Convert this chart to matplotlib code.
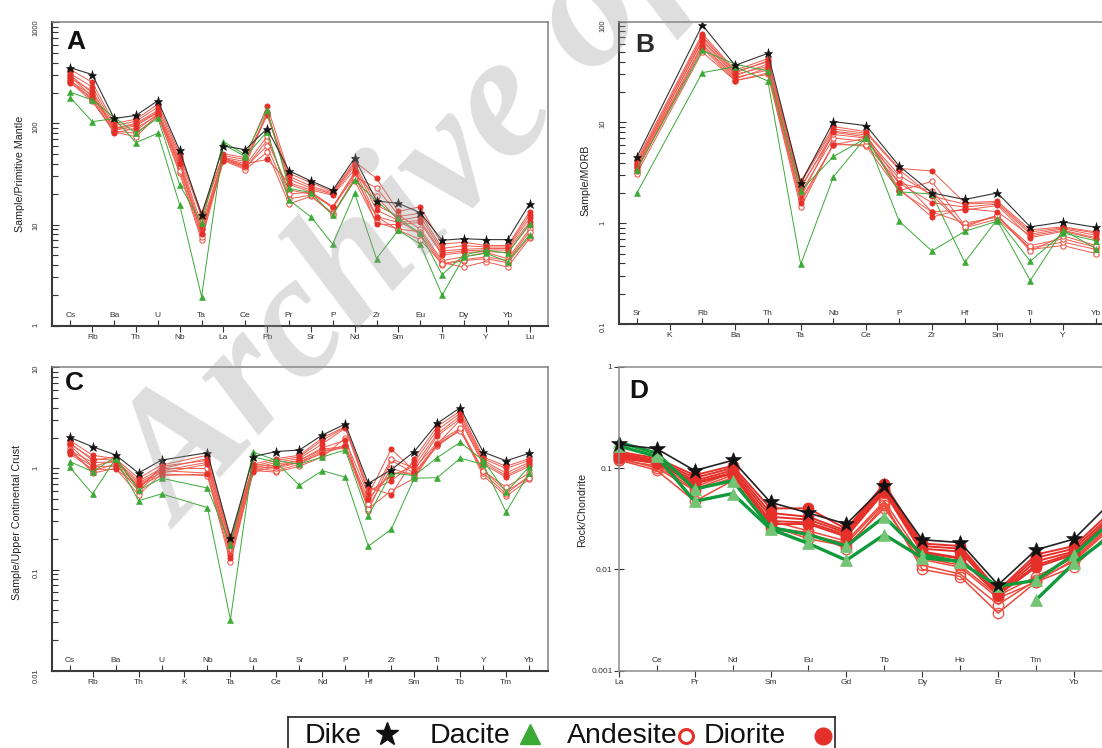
import numpy as np
import matplotlib.pyplot as plt
from matplotlib.ticker import FixedLocator, FixedFormatter, LogLocator, NullFormatter, FuncFormatter

plt.rcParams['font.family'] = ['Liberation Sans', 'DejaVu Sans']

W, H = 1102, 748
nan = np.nan

# ---- A: spider diagram normalised to primitive mantle
elements_a = ['Cs', 'Rb', 'Ba', 'Th', 'U', 'Nb', 'Ta', 'La', 'Ce', 'Pb', 'Pr',
              'Sr', 'P', 'Nd', 'Zr', 'Sm', 'Eu', 'Ti', 'Dy', 'Y', 'Yb', 'Lu']
dike_a = [356, 304, 112, 120, 168, 54, 12.5, 60, 55, 89, 34, 27, 21.8, 45.5,
          17.1, 16.2, 13.1, 7.0, 7.25, 7.1, 7.1, 16]
dacite_a = [
    [203, 171, 115, 80, 113, 24.6, 10.3, 66, 49, 136, 22.8, 20.7, 12.4, 27.6,
     17, 11.5, 8.2, 3.2, 5.0, 5.6, 5.2, 10.1],
    [180, 104, 112, 64.6, 80, 15.6, 1.94, 62, 47, 83, 17.5, 11.9, 6.4, 20.4,
     4.6, 8.8, 6.4, 2.0, 4.8, 5.2, 4.3, 7.9],
]
andesite_a = [
    [300, 200, 88, 98, 130, 36, 9, 44, 36, 68, 22, 20, 15, 30, 23, 12.5, 9, 4.4, 4.8, 5.3, 4.6, 9],
    [270, 170, 82, 74, 120, 32, 7, 43, 35, 52, 16, 19, 13.0, 27, 10.5, 9, 8.5, 4.2, 3.8, 4.3, 3.8, 7.3],
    [290, 185, 92, 85, 125, 38, 8, 46, 38, 75, 20, 21, 14.5, 32, 19, 11, 8.0, 4.0, 4.4, 4.6, 4.2, 7.6],
    [255, 165, 84, 80, 118, 34, 7.5, 45, 37, 60, 18, 19.5, 12.5, 29, 12, 8.8, 7.1, 4.1, 4.5, 4.8, 4.4, 8.5],
]
diorite_a = [
    [340, 255, 100, 110, 155, 50, 13, 50, 46, 148, 32, 26, 21, 42, 28.6, 13.5, 15, 6.4, 6.7, 6.2, 6.2, 13.4],
    [310, 230, 95, 105, 145, 47, 12, 48, 44, 126, 30, 24, 20.5, 40, 15.6, 12, 13, 5.8, 6.2, 6.0, 6.0, 12.5],
    [280, 210, 90, 100, 135, 44, 10, 46, 42, 120, 28, 23, 20, 38, 13.9, 11, 12, 5.5, 5.7, 5.8, 5.8, 11.5],
    [260, 190, 85, 95, 128, 42, 9, 45, 40, 44, 26, 22, 19.5, 35, 12, 10.5, 11, 5.2, 5.5, 5.6, 5.6, 10.5],
    [250, 180, 80, 90, 120, 40, 8, 43, 38, 130, 25, 21, 15, 33, 10.1, 10, 10.5, 5.0, 5.3, 5.4, 5.3, 10],
]

# ---- B: normalised to MORB
elements_b = ['Sr', 'K', 'Rb', 'Ba', 'Th', 'Ta', 'Nb', 'Ce', 'P', 'Zr', 'Hf',
              'Sm', 'Ti', 'Y', 'Yb']
dike_b = [4.5, nan, 92.7, 36.9, 48.5, 2.5, 10.2, 9.3, 3.7, 2.0, 1.72, 2.0, 0.92, 1.03, 0.91]
dacite_b = [
    [3.4, nan, 52, 37.8, 32.5, 2.1, 4.6, 7.0, 2.05, 1.95, 0.41, 1.1, 0.42, 0.8, 0.67],
    [1.98, nan, 31.2, 35.8, 25.8, 0.39, 2.9, 7.2, 1.05, 0.53, 0.83, 1.05, 0.27, 0.86, 0.56],
]
andesite_b = [
    [3.1, nan, 50, 26, 30, 1.44, 6.2, 5.8, 2.1, 2.6, 0.95, 1.2, 0.55, 0.6, 0.5],
    [3.3, nan, 60, 28, 33, 1.7, 6.0, 6.0, 2.5, 2.1, 0.9, 1.1, 0.57, 0.65, 0.55],
    [3.6, nan, 66, 30, 36, 2.0, 7.0, 6.5, 2.8, 1.3, 1.0, 1.15, 0.6, 0.7, 0.58],
    [3.9, nan, 72, 32, 40, 2.3, 7.6, 7.0, 3.0, 1.9, 0.92, 1.2, 0.53, 0.75, 0.6],
]
diorite_b = [
    [4.2, nan, 76, 33, 43, 2.6, 9.1, 8.1, 3.5, 3.3, 1.6, 1.65, 0.86, 0.92, 0.82],
    [4.0, nan, 70, 31, 41, 2.5, 8.6, 7.8, 3.4, 1.85, 1.55, 1.6, 0.82, 0.9, 0.8],
    [3.8, nan, 64, 29, 38, 2.2, 8.2, 7.5, 2.5, 1.6, 1.45, 1.55, 0.78, 0.88, 0.76],
    [3.6, nan, 58, 27, 35, 1.8, 8.0, 7.2, 2.2, 1.15, 1.4, 1.3, 0.75, 0.85, 0.72],
    [3.4, nan, 55, 26, 31, 1.6, 6.0, 7.0, 2.1, 1.3, 1.35, 1.5, 0.72, 0.83, 0.7],
]

# ---- C: normalised to upper continental crust
elements_c = ['Cs', 'Rb', 'Ba', 'Th', 'U', 'K', 'Nb', 'Ta', 'La', 'Ce', 'Sr',
              'Nd', 'P', 'Hf', 'Zr', 'Sm', 'Ti', 'Tb', 'Y', 'Tm', 'Yb']
dike_c = [2.03, 1.64, 1.36, 0.90, 1.21, nan, 1.43, 0.206, 1.31, 1.47, 1.52,
          2.14, 2.75, 0.71, 0.97, 1.47, 2.79, 3.99, 1.45, 1.19, 1.41]
dacite_c = [
    [1.17, 0.93, 1.3, 0.61, 0.80, nan, 0.64, 0.175, 1.45, 1.2, 1.1, 1.3, 1.52,
     0.34, 0.9, 0.85, 1.28, 1.81, 1.2, 0.58, 1.04],
    [1.03, 0.56, 1.25, 0.48, 0.56, nan, 0.41, 0.032, 1.3, 1.15, 0.68, 0.95, 0.82,
     0.17, 0.25, 0.8, 0.81, 1.26, 1.1, 0.37, 0.9],
]
andesite_c = [
    [1.6, 0.9, 1.0, 0.55, 0.88, nan, 0.85, 0.118, 0.95, 0.92, 1.05, 1.3, 2.0, 0.38, 1.2, 0.9, 1.65, 2.45, 0.85, 0.53, 0.78],
    [1.5, 0.95, 1.1, 0.6, 0.95, nan, 0.9, 0.15, 1.0, 0.95, 1.1, 1.45, 1.7, 0.42, 1.0, 0.85, 1.7, 2.4, 0.9, 0.56, 0.85],
    [1.7, 1.05, 1.2, 0.65, 1.0, nan, 1.0, 0.16, 1.05, 1.0, 1.15, 1.5, 1.6, 0.4, 0.6, 0.8, 1.75, 2.35, 0.95, 0.6, 0.8],
    [1.8, 1.2, 1.3, 0.62, 1.05, nan, 1.2, 0.18, 1.1, 1.05, 1.2, 1.55, 1.65, 0.45, 1.25, 1.0, 1.8, 2.5, 0.95, 0.65, 0.9],
]
diorite_c = [
    [1.9, 1.35, 1.25, 0.8, 1.08, nan, 1.35, 0.21, 1.1, 1.25, 1.35, 2.0, 2.6, 0.65, 0.55, 1.25, 2.6, 3.7, 1.3, 1.05, 1.25],
    [1.75, 1.25, 1.2, 0.75, 1.0, nan, 1.25, 0.19, 1.05, 1.2, 1.3, 1.9, 2.55, 0.6, 0.75, 1.15, 2.4, 3.5, 1.25, 1.0, 1.2],
    [1.5, 1.15, 1.15, 0.72, 0.95, nan, 1.15, 0.17, 1.0, 1.15, 1.25, 1.75, 2.5, 0.57, 0.85, 1.05, 2.2, 3.3, 1.2, 0.9, 1.15],
    [1.45, 1.05, 1.05, 0.7, 0.9, nan, 1.1, 0.14, 0.95, 1.1, 1.2, 1.6, 1.9, 0.55, 1.55, 0.95, 2.1, 3.1, 1.15, 0.85, 1.1],
    [1.4, 0.98, 0.98, 0.68, 0.85, nan, 0.88, 0.13, 0.92, 1.05, 1.15, 1.4, 1.65, 0.5, 0.9, 0.9, 1.75, 3.0, 1.1, 0.82, 1.05],
]

# ---- D: REE normalised to chondrite
elements_d = ['La', 'Ce', 'Pr', 'Nd', 'Sm', 'Eu', 'Gd', 'Tb', 'Dy', 'Ho', 'Er', 'Tm', 'Yb', 'Lu']
dike_d = [0.171, 0.155, 0.0944, 0.119, 0.0459, 0.036, 0.028, 0.066, 0.0196, 0.0184, 0.00703, 0.0156, 0.0199, 0.047]
dacite_d = [
    [0.18, 0.14, 0.062, 0.075, 0.026, 0.022, 0.017, 0.033, 0.014, 0.0118, 0.0068, 0.0078, 0.014, 0.03],
    [0.165, 0.13, 0.047, 0.056, 0.025, 0.018, 0.0123, 0.022, 0.013, 0.012, nan, 0.005, 0.0115, 0.022],
]
andesite_d = [
    [0.12, 0.095, 0.047, 0.075, 0.025, 0.022, 0.018, 0.045, 0.01, 0.0085, 0.0037, 0.0075, 0.0106, 0.024],
    [0.125, 0.1, 0.06, 0.08, 0.026, 0.023, 0.016, 0.043, 0.011, 0.009, 0.0045, 0.0078, 0.012, 0.026],
    [0.12, 0.105, 0.062, 0.085, 0.027, 0.02, 0.017, 0.04, 0.0125, 0.0105, 0.0052, 0.0075, 0.0125, 0.027],
    [0.13, 0.11, 0.065, 0.09, 0.03, 0.024, 0.019, 0.047, 0.013, 0.011, 0.0055, 0.0085, 0.013, 0.028],
]
diorite_d = [
    [0.145, 0.125, 0.085, 0.105, 0.040, 0.040, 0.025, 0.070, 0.018, 0.017, 0.0062, 0.014, 0.017, 0.038],
    [0.14, 0.12, 0.08, 0.10, 0.036, 0.033, 0.024, 0.066, 0.017, 0.016, 0.006, 0.013, 0.016, 0.035],
    [0.135, 0.118, 0.075, 0.095, 0.033, 0.031, 0.023, 0.062, 0.016, 0.015, 0.0058, 0.012, 0.015, 0.033],
    [0.13, 0.115, 0.072, 0.09, 0.03, 0.029, 0.022, 0.06, 0.015, 0.013, 0.0057, 0.011, 0.0145, 0.031],
    [0.125, 0.112, 0.07, 0.088, 0.028, 0.028, 0.021, 0.058, 0.0145, 0.0128, 0.0056, 0.0105, 0.014, 0.03],
]

RED = '#e5302a'
RED_LINE = '#ef5a4c'
GREEN = '#3aaa35'

small = {
    'andesite': dict(color=RED_LINE, lw=0.7, marker='o', ms=3.8, mfc='white', mec='#ec4436', mew=0.7),
    'diorite': dict(color=RED_LINE, lw=0.7, marker='o', ms=3.8, mfc=RED, mec=RED, mew=0.5),
    'dacite': dict(color=GREEN, lw=0.7, marker='^', ms=4.2, mfc=GREEN, mec=GREEN, mew=0.4),
    'dike': dict(color='#333333', lw=0.8, marker='*', ms=6.5, mfc='#111111', mec='#111111', mew=0.4),
}
big = {
    'andesite': dict(color='#ee4a3c', lw=1.1, marker='o', ms=7.5, mfc='none', mec='#ee4a3c', mew=0.9),
    'diorite': dict(color=RED, lw=1.4, marker='o', ms=8, mfc=RED, mec=RED, mew=0.5),
    'dacite': dict(color='#119a3c', lw=2.4, marker='^', ms=8.5, mfc='#74c476', mec='#74c476', mew=0.5),
    'dike': dict(color='#222222', lw=1.2, marker='*', ms=12, mfc='#111111', mec='#111111', mew=0.4),
}


def px_axes(fig, x0, y0, x1, y1):
    return fig.add_axes([x0 / W, 1 - y1 / H, (x1 - x0) / W, (y1 - y0) / H])


def plot_line(ax, vals, style, bridge, clip):
    y = np.asarray(vals, dtype=float)
    x = np.arange(len(y))
    if bridge:
        ok = np.isfinite(y)
        x, y = x[ok], y[ok]
    ax.plot(x, y, clip_on=clip, **style)


def draw_groups(ax, dike, dacite, andesite, diorite, styles, bridge=True, clip=True):
    for s in andesite:
        plot_line(ax, s, styles['andesite'], bridge, clip)
    for s in diorite:
        plot_line(ax, s, styles['diorite'], bridge, clip)
    for s in dacite:
        plot_line(ax, s, styles['dacite'], bridge, clip)
    plot_line(ax, dike, styles['dike'], bridge, clip)


def setup_x(ax, elems, top_even=True, shown=None):
    idx = np.arange(len(elems) if shown is None else shown)
    top = idx[0::2] if top_even else idx[1::2]
    bot = idx[1::2] if top_even else idx[0::2]
    ax.xaxis.set_major_locator(FixedLocator(bot))
    ax.xaxis.set_major_formatter(FixedFormatter([elems[i] for i in bot]))
    ax.xaxis.set_minor_locator(FixedLocator(top))
    ax.xaxis.set_minor_formatter(FixedFormatter([elems[i] for i in top]))
    ax.tick_params(axis='x', which='major', direction='out', length=4.5, width=0.8,
                   pad=1.2, labelsize=6, colors='#333333')
    ax.tick_params(axis='x', which='minor', direction='in', length=4.5, width=0.8,
                   pad=-10, labelsize=6, colors='#333333', labelbottom=True)
    ax.tick_params(axis='x', which='both', top=False)


def setup_y_rot(ax, lo, hi):
    ax.set_yscale('log')
    ax.set_ylim(lo, hi)
    ax.yaxis.set_major_locator(LogLocator(base=10, numticks=10))
    ax.yaxis.set_minor_locator(LogLocator(base=10, subs=np.arange(2, 10), numticks=10))
    ax.yaxis.set_minor_formatter(NullFormatter())
    ax.yaxis.set_major_formatter(FuncFormatter(lambda v, _: f'{v:g}'))
    ax.tick_params(axis='y', which='major', direction='in', length=5, width=0.8,
                   labelsize=5.5, labelrotation=90, pad=9, colors='#333333')
    ax.tick_params(axis='y', which='minor', direction='in', length=4, width=0.8, colors='#333333')
    ax.tick_params(axis='y', which='both', right=False)
    for side in ('left', 'bottom'):
        ax.spines[side].set_color('#3a3a3a')
        ax.spines[side].set_linewidth(1.5)
    for side in ('top', 'right'):
        ax.spines[side].set_color('#808080')
        ax.spines[side].set_linewidth(1.1)


fig = plt.figure(figsize=(W / 100, H / 100), dpi=100)

# A
ax_a = px_axes(fig, 51.8, 22.3, 547.5, 325.7)
draw_groups(ax_a, dike_a, dacite_a, andesite_a, diorite_a, small)
setup_x(ax_a, elements_a)
ax_a.set_xlim(-0.85, 21.82)
setup_y_rot(ax_a, 1, 1000)

# B
ax_b = px_axes(fig, 618.8, 21.7, 618.8 + 15.55 * 32.79, 324.0)
draw_groups(ax_b, dike_b, dacite_b, andesite_b, diorite_b, small)
setup_x(ax_b, elements_b)
ax_b.set_xlim(-0.546, 15.0)
setup_y_rot(ax_b, 0.1, 100)

# C
ax_c = px_axes(fig, 51.8, 367.3, 547.5, 670.7)
draw_groups(ax_c, dike_c, dacite_c, andesite_c, diorite_c, small)
setup_x(ax_c, elements_c)
ax_c.set_xlim(-0.775, 20.8)
setup_y_rot(ax_c, 0.01, 10)

# D (the Lu column sits past the right edge of the sheet)
ax_d = px_axes(fig, 618.8, 366.7, 618.8 + 13.4 * 37.93, 670.7)
draw_groups(ax_d, dike_d, dacite_d, andesite_d, diorite_d, big, bridge=False, clip=False)
setup_x(ax_d, elements_d, top_even=False, shown=len(elements_d) - 1)
ax_d.set_xlim(0, 13.4)
ax_d.set_yscale('log')
ax_d.set_ylim(0.001, 1)
ax_d.yaxis.set_major_locator(LogLocator(base=10, numticks=10))
ax_d.yaxis.set_minor_locator(FixedLocator([]))
ax_d.yaxis.set_major_formatter(FuncFormatter(lambda v, _: f'{v:g}'))
ax_d.tick_params(axis='y', which='major', direction='inout', length=7, width=0.8,
                 labelsize=6, pad=1, colors='#333333', right=False)
for side in ax_d.spines.values():
    side.set_color('#8c8c8c')
    side.set_linewidth(1.1)

# panel letters and axis titles
for letter, x, y, col in [('A', 66, 49, '#111111'), ('B', 635, 52, '#2a2a2a'),
                          ('C', 65, 390, '#111111'), ('D', 629, 398, '#111111')]:
    fig.text(x / W, 1 - y / H, letter, fontsize=19, fontweight='bold', color=col,
             ha='left', va='baseline')

for text, x, y in [('Sample/Primitive Mantle', 20, 174), ('Sample/MORB', 585, 180),
                   ('Sample/Upper Continental Crust', 17, 522), ('Rock/Chondrite', 582, 510)]:
    fig.text(x / W, 1 - y / H, text, rotation=90, ha='center', va='center',
             fontsize=7.7, color='#222222')

# legend strip along the bottom edge
lg = fig.add_axes([288 / W, 1 - 765 / H, (835 - 288) / W, (765 - 717) / H])
lg.set_xlim(288, 835)
lg.set_ylim(765, 717)
lg.set_xticks([])
lg.set_yticks([])
for side in lg.spines.values():
    side.set_color('#222222')
    side.set_linewidth(1.2)
for label, x in [('Dike', 305), ('Dacite', 430), ('Andesite', 567), ('Diorite', 704)]:
    lg.text(x, 743, label, fontsize=20.5, ha='left', va='baseline', color='#111111')
lg.plot([387], [734], marker='*', ms=17, color='#111111', ls='none')
lg.plot([530], [734], marker='^', ms=14, color=GREEN, ls='none')
lg.plot([686], [736], marker='o', ms=10, mfc='white', mec=RED, mew=2.2, ls='none')
lg.plot([823], [736], marker='o', ms=12, color=RED, ls='none')

# faint archive stamp across the sheet
fig.text(180 / W, 1 - 530 / H, 'Archive of SID', rotation=47, rotation_mode='anchor',
         ha='left', va='baseline', fontsize=126, family='Liberation Serif',
         style='italic', fontweight='bold', color='#9a9a9a', alpha=0.33, zorder=10)

fig.savefig('out.png', dpi=100)
